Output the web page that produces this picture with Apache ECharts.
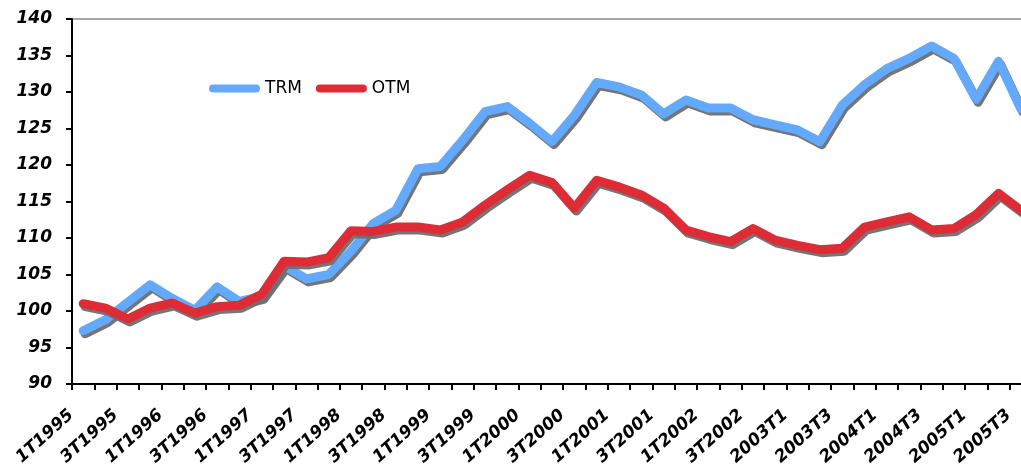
<!DOCTYPE html>
<html>
<head>
<meta charset="utf-8">
<script src="https://cdn.jsdelivr.net/npm/echarts@6/dist/echarts.min.js"></script>
<style>
html,body{margin:0;padding:0;background:#fff;overflow:hidden;}
#chart{width:1040px;height:467px;}
</style>
</head>
<body>
<div id="chart"></div>
<script>
var categories = [
  '1T1995','2T1995','3T1995','4T1995',
  '1T1996','2T1996','3T1996','4T1996',
  '1T1997','2T1997','3T1997','4T1997',
  '1T1998','2T1998','3T1998','4T1998',
  '1T1999','2T1999','3T1999','4T1999',
  '1T2000','2T2000','3T2000','4T2000',
  '1T2001','2T2001','3T2001','4T2001',
  '1T2002','2T2002','3T2002','4T2002',
  '2003T1','2003T2','2003T3','2003T4',
  '2004T1','2004T2','2004T3','2004T4',
  '2005T1','2005T2','2005T3'
];
var trm = [
  97.3, 98.8, 101.2, 103.6,
  101.7, 100.1, 103.3, 101.3,
  102.0, 106.2, 104.4, 105.0,
  108.2, 112.0, 113.8, 119.5,
  119.8, 123.4, 127.3, 128.0,
  125.7, 123.2, 126.8, 131.3,
  130.7, 129.6, 127.0, 128.9,
  127.8, 127.8, 126.2, 125.5,
  124.8, 123.2, 128.2, 131.0,
  133.2, 134.6, 136.3, 134.6,
  129.0, 134.2, 127.7
];
var otm = [
  101.0, 100.4, 98.9, 100.4,
  101.1, 99.7, 100.6, 100.8,
  102.3, 106.8, 106.7, 107.3,
  111.0, 110.9, 111.5, 111.5,
  111.1, 112.2, 114.5, 116.6,
  118.6, 117.6, 114.1, 117.9,
  117.0, 115.9, 114.1, 111.1,
  110.2, 109.5, 111.3, 109.7,
  109.0, 108.4, 108.6, 111.5,
  112.2, 112.9, 111.1, 111.3,
  113.2, 116.1, 113.8
];
var yTicks = [90, 95, 100, 105, 110, 115, 120, 125, 130, 135, 140];

var chart = echarts.init(document.getElementById('chart'), null, {renderer: 'canvas'});
var lab = {fontFamily: 'DejaVu Sans', fontWeight: 'bold', fontStyle: 'italic', fontSize: 17, color: '#000'};
function lineSeries(name, data, color) {
  return {
    name: name, type: 'line', data: data, symbol: 'none', smooth: false,
    lineStyle: {color: color, width: 9, cap: 'round', join: 'round',
      shadowColor: 'rgba(110,110,110,0.95)', shadowOffsetX: 2, shadowOffsetY: 3, shadowBlur: 0},
    itemStyle: {color: color},
    emphasis: {disabled: true}
  };
}
chart.setOption({
  animation: false,
  grid: {left: 72, top: 19, bottom: 83, right: 8, containLabel: false, outerBoundsMode: 'none',
    show: true, borderColor: '#8a8a8a', borderWidth: 1.5, backgroundColor: 'transparent'},
  legend: {
    left: 209, top: 80, padding: 0, itemWidth: 51, itemHeight: 8, itemGap: 14, itemTextGap: 3,
    icon: 'path://M4,0 L47,0 A4,4 0 0 1 47,8 L4,8 A4,4 0 0 1 4,0 Z',
    textStyle: {fontFamily: 'DejaVu Sans', fontSize: 17, color: '#000'},
    data: ['TRM', 'OTM']
  },
  xAxis: {
    type: 'category', data: categories, boundaryGap: true,
    axisLine: {lineStyle: {color: '#000', width: 2}},
    axisTick: {show: true, interval: 0, length: 6, lineStyle: {color: '#000', width: 2}},
    axisLabel: Object.assign({interval: 1, rotate: 42, margin: 18, padding: [0, 16, 0, 0]}, lab),
    splitLine: {show: false}
  },
  yAxis: {
    type: 'value', min: yTicks[0], max: yTicks[yTicks.length - 1], interval: 5,
    axisLine: {show: true, lineStyle: {color: '#000', width: 2}},
    axisTick: {show: true, length: 6, lineStyle: {color: '#000', width: 2}},
    axisLabel: Object.assign({margin: 20}, lab),
    splitLine: {show: false}
  },
  series: [lineSeries('TRM', trm, '#63AAFF'), lineSeries('OTM', otm, '#DD2C36')]
});
</script>
</body>
</html>
